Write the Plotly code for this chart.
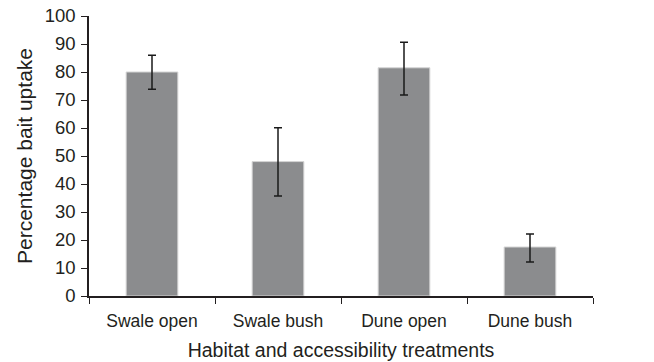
import plotly.graph_objects as go

categories = ["Swale open", "Swale bush", "Dune open", "Dune bush"]
values = [80.0, 48.0, 81.5, 17.5]
err_plus = [6.0, 12.1, 9.1, 4.6]
err_minus = [6.2, 12.3, 9.7, 5.4]
y_ticks = [0, 10, 20, 30, 40, 50, 60, 70, 80, 90, 100]

FONT = "Liberation Sans, Arial, sans-serif"
TXT = "#231f20"

fig = go.Figure(go.Bar(
    x=categories, y=values,
    marker=dict(color="#8b8c8e", line=dict(color="#d4d4d4", width=1)),
    error_y=dict(type="data", symmetric=False, array=err_plus, arrayminus=err_minus,
                 color="#1a1a1a", thickness=1.5, width=4),
    showlegend=False,
))

fig.update_layout(
    width=654, height=362,
    margin=dict(l=89, r=61, t=16, b=66, autoexpand=False),
    paper_bgcolor="white", plot_bgcolor="white",
    bargap=0.59,
    font=dict(family=FONT, color=TXT, size=17),
    xaxis=dict(
        range=[-0.5, 3.5], showline=True, linecolor=TXT, linewidth=1.5,
        ticks="outside", tickson="boundaries", ticklen=6, tickcolor=TXT, tickwidth=1,
        tickfont=dict(size=17.5), showgrid=False, ticklabelstandoff=8, automargin=False,
        title=dict(text="Habitat and accessibility treatments", font=dict(size=19.5), standoff=14),
    ),
    yaxis=dict(
        range=[0, 100], tickvals=y_ticks, showline=True, linecolor=TXT, linewidth=1.5,
        ticks="outside", ticklen=6, tickcolor=TXT, tickwidth=1, showgrid=False, zeroline=False,
        tickfont=dict(size=18.5), ticklabelstandoff=2, automargin=False,
        title=dict(text="Percentage bait uptake", font=dict(size=21), standoff=6),
    ),
)

fig.write_html("out.html")
